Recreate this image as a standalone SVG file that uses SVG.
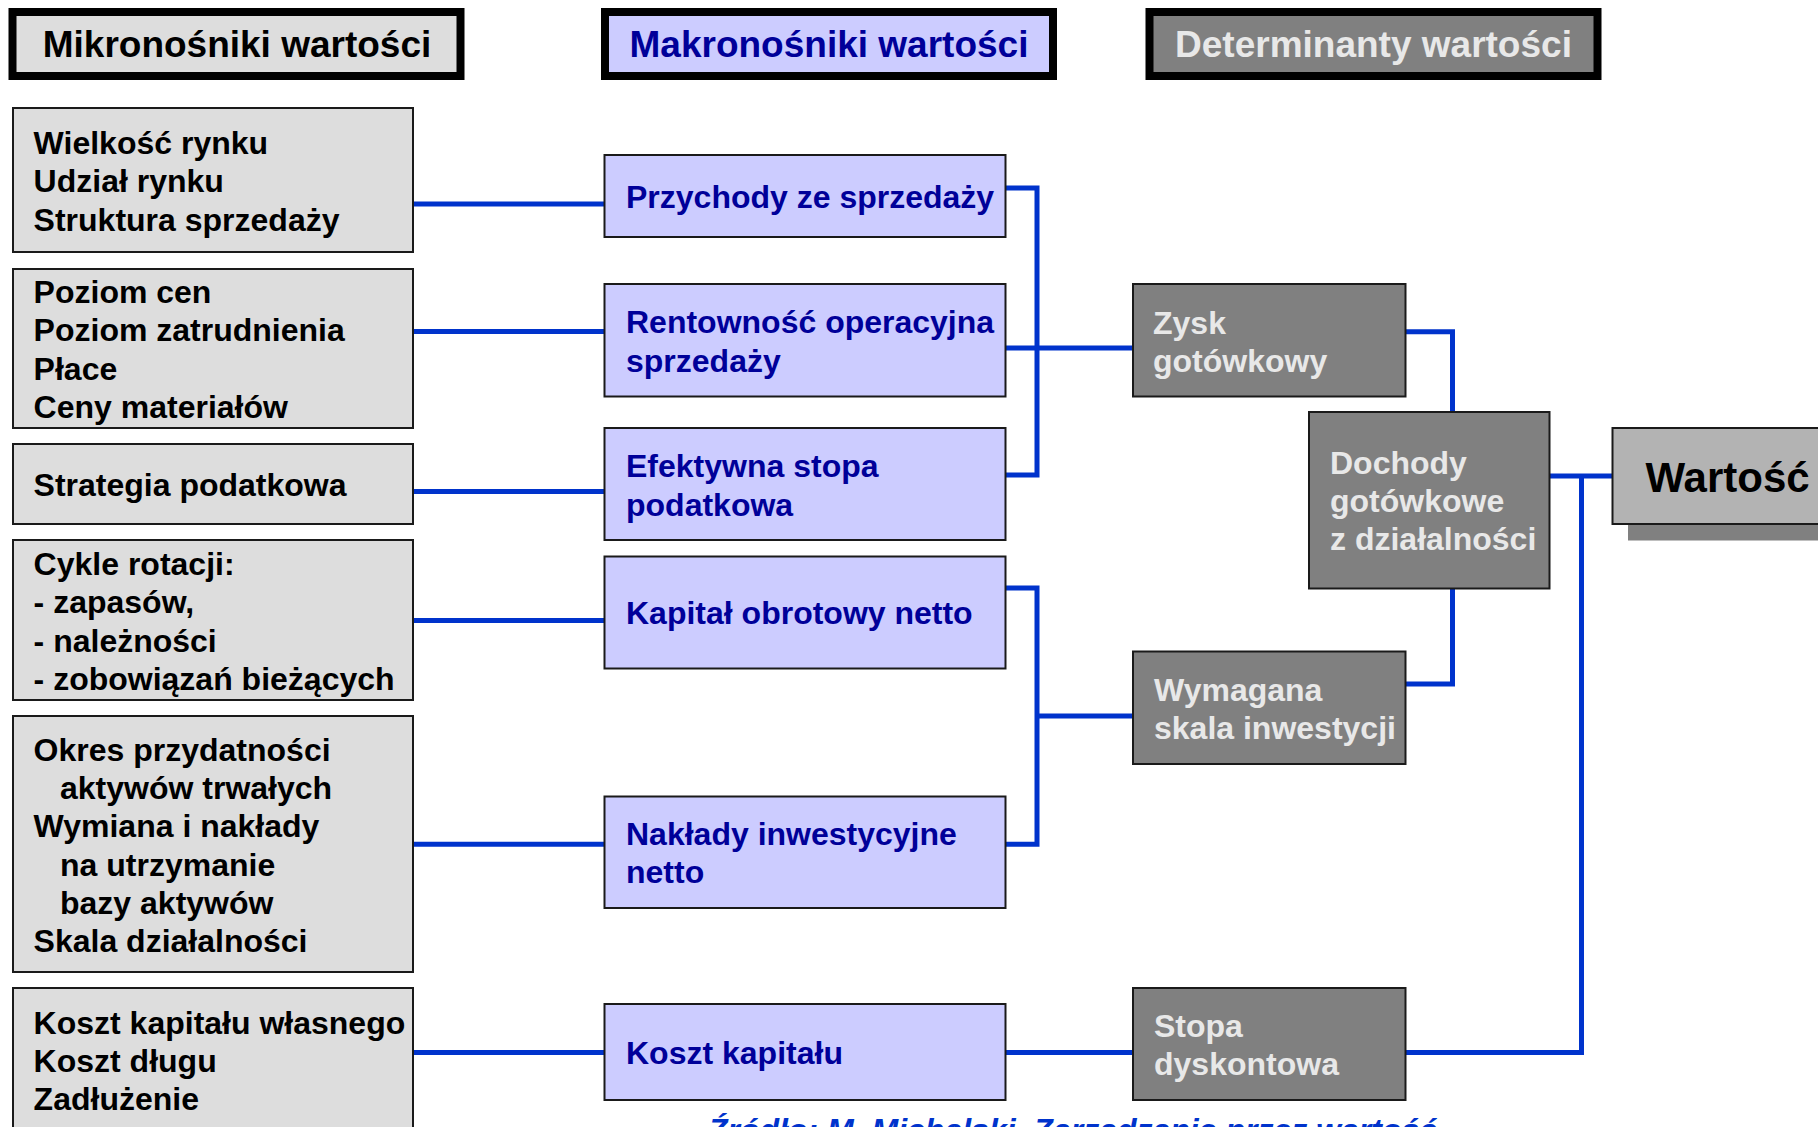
<svg xmlns="http://www.w3.org/2000/svg" width="1818" height="1127" viewBox="0 0 1818 1127">
  <style>
    text { font-family: "Liberation Sans", Arial, sans-serif; font-weight: bold; }
    .hdr { stroke: #000; stroke-width: 8; }
    .hdr-t { font-size: 37px; text-anchor: middle; }
    .micro { fill: #dddddd; stroke: #1a1a1a; stroke-width: 2; }
    .micro-t { font-size: 32px; fill: #000; }
    .macro { fill: #ccccff; stroke: #1a1a1a; stroke-width: 2; }
    .macro-t { font-size: 32px; fill: #000099; }
    .det { fill: #808080; stroke: #1a1a1a; stroke-width: 2; }
    .det-t { font-size: 32px; fill: #e8e8e8; }
    .conn { fill: none; stroke: #0033cc; stroke-width: 5; stroke-linejoin: miter; stroke-linecap: butt; }
    .src { font-size: 32px; font-style: italic; fill: #0033cc; }
  </style>

  <rect width="1818" height="1127" fill="#ffffff"/>

  <!-- column headers -->
  <g id="hdr-micro">
    <rect class="hdr" x="12.5" y="12" width="448" height="64" fill="#dddddd"/>
    <text class="hdr-t" x="237" y="57" fill="#000">Mikronośniki wartości</text>
  </g>
  <g id="hdr-macro">
    <rect class="hdr" x="605" y="12" width="448" height="64" fill="#ccccff"/>
    <text class="hdr-t" x="829" y="57" fill="#000099">Makronośniki wartości</text>
  </g>
  <g id="hdr-det">
    <rect class="hdr" x="1149.5" y="12" width="448" height="64" fill="#808080"/>
    <text class="hdr-t" x="1373.5" y="57" fill="#e8e8e8">Determinanty wartości</text>
  </g>

  <!-- connectors -->
  <g id="connectors">
    <path class="conn" d="M413 204 H604.5"/>
    <path class="conn" d="M413 331.6 H604.5"/>
    <path class="conn" d="M413 491.6 H604.5"/>
    <path class="conn" d="M413 620.5 H604.5"/>
    <path class="conn" d="M413 844.3 H604.5"/>
    <path class="conn" d="M413 1052.5 H604.5"/>
    <path class="conn" d="M1005.5 188 H1037 V475 H1005.5"/>
    <path class="conn" d="M1005.5 348 H1133"/>
    <path class="conn" d="M1005.5 588 H1037 V844.3 H1005.5"/>
    <path class="conn" d="M1037 716 H1133"/>
    <path class="conn" d="M1405.5 331.7 H1452.5 V412"/>
    <path class="conn" d="M1452.5 588.5 V684 H1405.5"/>
    <path class="conn" d="M1549.5 476 H1612.5"/>
    <path class="conn" d="M1581.5 476 V1052.5 H1405.5"/>
    <path class="conn" d="M1005.5 1052.5 H1133"/>
  </g>

  <!-- micro drivers -->
  <g id="micro-1">
    <rect class="micro" x="13" y="108" width="400" height="144"/>
    <text class="micro-t" x="33.6" y="154">Wielkość rynku</text>
    <text class="micro-t" x="33.6" y="192">Udział rynku</text>
    <text class="micro-t" x="33.6" y="231">Struktura sprzedaży</text>
  </g>
  <g id="micro-2">
    <rect class="micro" x="13" y="269" width="400" height="159"/>
    <text class="micro-t" x="33.6" y="303">Poziom cen</text>
    <text class="micro-t" x="33.6" y="341">Poziom zatrudnienia</text>
    <text class="micro-t" x="33.6" y="380">Płace</text>
    <text class="micro-t" x="33.6" y="418">Ceny materiałów</text>
  </g>
  <g id="micro-3">
    <rect class="micro" x="13" y="444" width="400" height="80"/>
    <text class="micro-t" x="33.6" y="496">Strategia podatkowa</text>
  </g>
  <g id="micro-4">
    <rect class="micro" x="13" y="540" width="400" height="160"/>
    <text class="micro-t" x="33.6" y="575">Cykle rotacji:</text>
    <text class="micro-t" x="33.6" y="613">- zapasów,</text>
    <text class="micro-t" x="33.6" y="651.5">- należności</text>
    <text class="micro-t" x="33.6" y="690">- zobowiązań bieżących</text>
  </g>
  <g id="micro-5">
    <rect class="micro" x="13" y="716" width="400" height="256"/>
    <text class="micro-t" x="33.6" y="761">Okres przydatności</text>
    <text class="micro-t" x="60" y="799">aktywów trwałych</text>
    <text class="micro-t" x="33.6" y="837">Wymiana i nakłady</text>
    <text class="micro-t" x="60" y="875.5">na utrzymanie</text>
    <text class="micro-t" x="60" y="914">bazy aktywów</text>
    <text class="micro-t" x="33.6" y="952">Skala działalności</text>
  </g>
  <g id="micro-6">
    <rect class="micro" x="13" y="988" width="400" height="170"/>
    <text class="micro-t" x="33.6" y="1034">Koszt kapitału własnego</text>
    <text class="micro-t" x="33.6" y="1072">Koszt długu</text>
    <text class="micro-t" x="33.6" y="1110">Zadłużenie</text>
  </g>

  <!-- macro drivers -->
  <g id="macro-1">
    <rect class="macro" x="604.5" y="155" width="401" height="82"/>
    <text class="macro-t" x="626" y="208">Przychody ze sprzedaży</text>
  </g>
  <g id="macro-2">
    <rect class="macro" x="604.5" y="284" width="401" height="112.5"/>
    <text class="macro-t" x="626" y="333">Rentowność operacyjna</text>
    <text class="macro-t" x="626" y="372">sprzedaży</text>
  </g>
  <g id="macro-3">
    <rect class="macro" x="604.5" y="428" width="401" height="112"/>
    <text class="macro-t" x="626" y="477">Efektywna stopa</text>
    <text class="macro-t" x="626" y="515.5">podatkowa</text>
  </g>
  <g id="macro-4">
    <rect class="macro" x="604.5" y="556.5" width="401" height="112"/>
    <text class="macro-t" x="626" y="624">Kapitał obrotowy netto</text>
  </g>
  <g id="macro-5">
    <rect class="macro" x="604.5" y="796.5" width="401" height="111.5"/>
    <text class="macro-t" x="626" y="845">Nakłady inwestycyjne</text>
    <text class="macro-t" x="626" y="883">netto</text>
  </g>
  <g id="macro-6">
    <rect class="macro" x="604.5" y="1004" width="401" height="96"/>
    <text class="macro-t" x="626" y="1064">Koszt kapitału</text>
  </g>

  <!-- value determinants -->
  <g id="det-zysk">
    <rect class="det" x="1133" y="284" width="272.5" height="112.5"/>
    <text class="det-t" x="1153" y="333.5">Zysk</text>
    <text class="det-t" x="1153" y="371.5">gotówkowy</text>
  </g>
  <g id="det-dochody">
    <rect class="det" x="1309" y="412" width="240.5" height="176.5"/>
    <text class="det-t" x="1330" y="474">Dochody</text>
    <text class="det-t" x="1330" y="512">gotówkowe</text>
    <text class="det-t" x="1330" y="550">z działalności</text>
  </g>
  <g id="det-skala">
    <rect class="det" x="1133" y="651.5" width="272.5" height="112.5"/>
    <text class="det-t" x="1154" y="701">Wymagana</text>
    <text class="det-t" x="1154" y="739">skala inwestycji</text>
  </g>
  <g id="det-stopa">
    <rect class="det" x="1133" y="988" width="272.5" height="112"/>
    <text class="det-t" x="1154" y="1037">Stopa</text>
    <text class="det-t" x="1154" y="1075">dyskontowa</text>
  </g>

  <!-- value -->
  <g id="wartosc">
    <rect x="1628" y="444" width="210" height="96.5" fill="#808080"/>
    <rect x="1612.5" y="428" width="220" height="96" fill="#b3b3b3" stroke="#1a1a1a" stroke-width="2"/>
    <text x="1645.5" y="492" font-size="42" fill="#000">Wartość</text>
  </g>

  <!-- source note -->
  <text class="src" x="708" y="1141">Źródło: M. Michalski, Zarządzanie przez wartość</text>
</svg>
